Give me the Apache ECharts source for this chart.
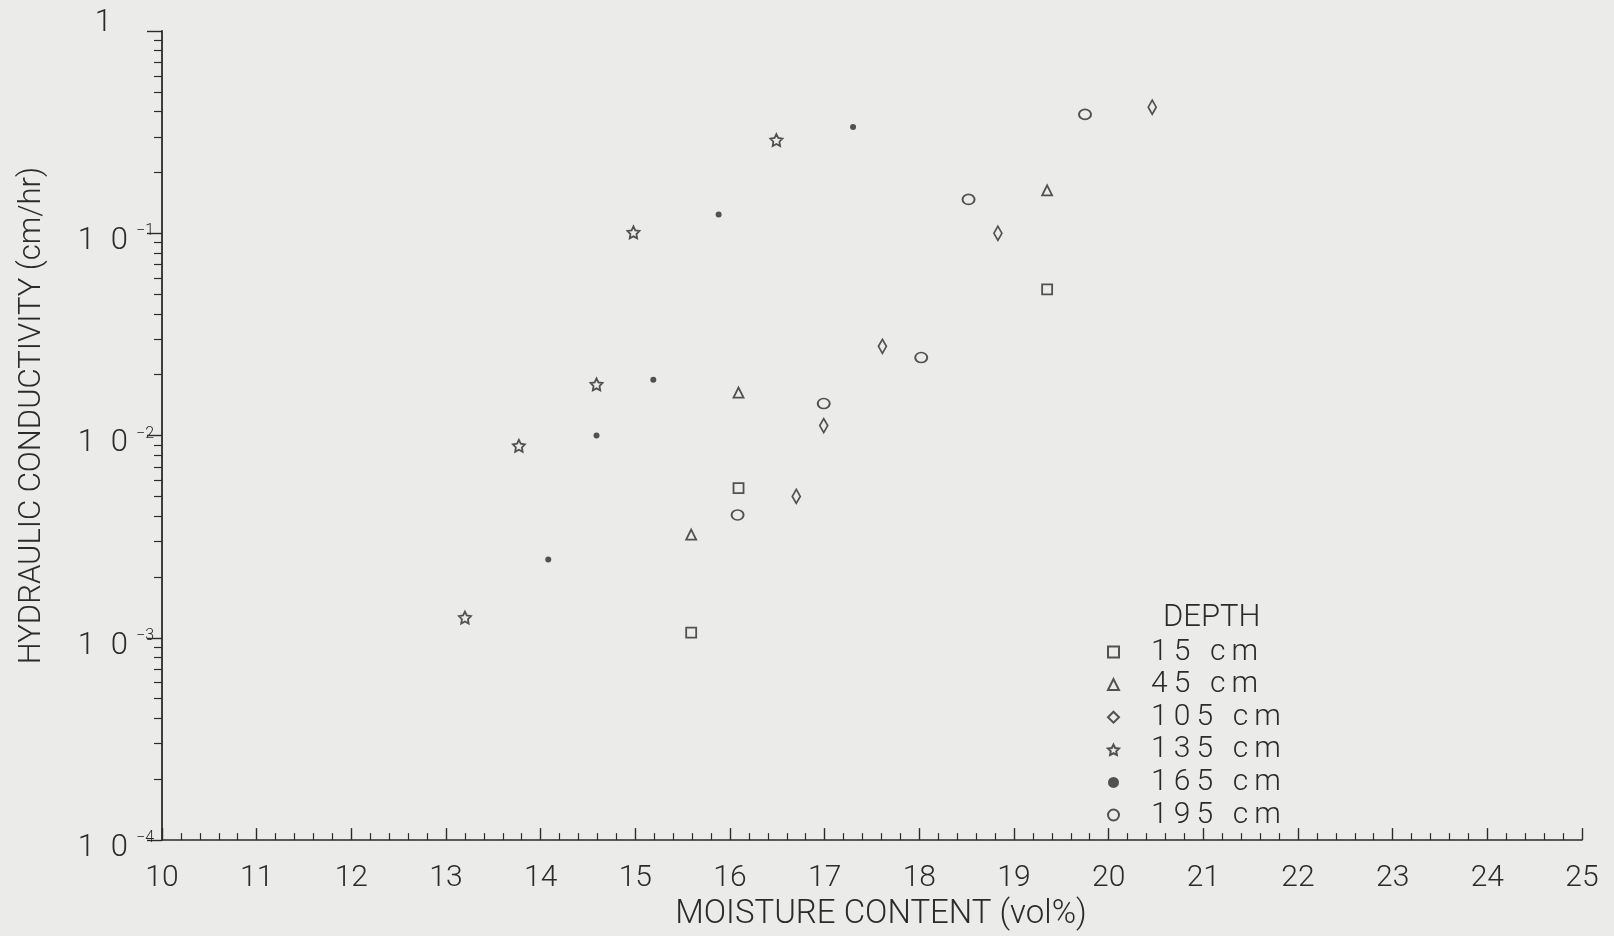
<!DOCTYPE html>
<html>
<head>
<meta charset="utf-8">
<script src="https://cdn.jsdelivr.net/npm/echarts@6/dist/echarts.min.js"></script>
<style>
  html, body { margin: 0; padding: 0; background: #ebebe9; }
  #chart { width: 1614px; height: 936px; }
</style>
</head>
<body>
<div id="chart"></div>
<script>
// depth series (legend order)
const depths = ['15 cm', '45 cm', '105 cm', '135 cm', '165 cm', '195 cm']

// moisture content (vol%) and hydraulic conductivity (cm/hr) per depth
const moisture15 = [15.59, 16.09, 19.35]
const cond15 = [0.00106, 0.0055, 0.0528]

const moisture45 = [15.59, 16.09, 19.35]
const cond45 = [0.00324, 0.0163, 0.163]

const moisture105 = [16.70, 16.99, 17.61, 18.83, 20.46]
const cond105 = [0.0050, 0.0112, 0.0276, 0.100, 0.420]

const moisture135 = [13.20, 13.77, 14.59, 14.98, 16.49]
const cond135 = [0.00126, 0.0089, 0.0179, 0.101, 0.289]

const moisture165 = [14.08, 14.59, 15.19, 15.88, 17.30]
const cond165 = [0.00244, 0.0100, 0.0189, 0.124, 0.335]

const moisture195 = [16.08, 16.99, 18.02, 18.52, 19.75]
const cond195 = [0.00405, 0.0144, 0.0243, 0.147, 0.387]

const xTicks = [10, 11, 12, 13, 14, 15, 16, 17, 18, 19, 20, 21, 22, 23, 24, 25]
const yMinorTicks = []
for (let e = -4; e < 0; e++) {
  for (let m = 2; m <= 9; m++) yMinorTicks.push(m * Math.pow(10, e))
}

const bg = '#ebebe9'
const ink = '#2b2b2b'
const font = 'Roboto'

const starPath = 'path://M10 0 L12.94 5.95 L19.51 6.91 L14.76 11.55 L15.88 18.09 L10 15 L4.12 18.09 L5.24 11.55 L0.49 6.91 L7.06 5.95 Z'

const pairs = (xs, ys) => xs.map((x, i) => [x, ys[i]])

const hollow = { color: bg, borderColor: ink, borderWidth: 1.8 }

const seriesDefs = [
  { name: depths[0], data: pairs(moisture15, cond15), symbol: 'rect', symbolSize: 10, itemStyle: hollow },
  { name: depths[1], data: pairs(moisture45, cond45), symbol: 'triangle', symbolSize: 10, itemStyle: hollow },
  { name: depths[2], data: pairs(moisture105, cond105), symbol: 'diamond', symbolSize: [8, 14], itemStyle: hollow },
  { name: depths[3], data: pairs(moisture135, cond135), symbol: starPath, symbolSize: 12, itemStyle: hollow },
  { name: depths[4], data: pairs(moisture165, cond165), symbol: 'circle', symbolSize: 6, itemStyle: { color: ink } },
  { name: depths[5], data: pairs(moisture195, cond195), symbol: 'circle', symbolSize: [12, 10], itemStyle: hollow }
]

const chart = echarts.init(document.getElementById('chart'))

const yLabel = (v) => {
  const e = Math.round(Math.log10(v))
  if (e === 0) return '{t|1}{pad|}'
  return '{b|1\u20020}{s|\u2212' + (-e) + '}'
}

chart.setOption({
  backgroundColor: bg,
  animation: false,
  textStyle: { fontFamily: font, fontWeight: 300, color: ink },
  title: {
    text: 'DEPTH',
    left: 1158,
    top: 598,
    textStyle: { fontFamily: font, fontWeight: 300, fontSize: 31, color: ink }
  },
  legend: {
    orient: 'vertical',
    left: 1102,
    top: 632,
    itemWidth: 11,
    itemHeight: 11,
    itemGap: 2.6,
    data: depths,
    formatter: (name) => name.split('').join('\u2009'),
    textStyle: { fontFamily: font, fontWeight: 300, fontSize: 30, lineHeight: 30, color: ink, padding: [0, 0, 0, 27] }
  },
  grid: { left: 162, right: 32, top: 31, bottom: 90, containLabel: false },
  xAxis: {
    type: 'value',
    min: xTicks[0],
    max: xTicks[xTicks.length - 1],
    interval: 1,
    name: 'MOISTURE CONTENT (vol%)',
    nameLocation: 'middle',
    nameGap: 55,
    nameTextStyle: { fontFamily: font, fontWeight: 300, fontSize: 33, color: ink, padding: [0, 0, 0, 18] },
    axisLine: { show: true, onZero: false, lineStyle: { color: ink, width: 1.6 } },
    axisTick: { show: true, inside: true, length: 12, lineStyle: { color: ink, width: 1.4 } },
    minorTick: { show: true, splitNumber: 5, length: 7, lineStyle: { color: ink, width: 1.2 } },
    axisLabel: { margin: 23, fontFamily: font, fontWeight: 300, fontSize: 30, color: ink },
    splitLine: { show: false },
    minorSplitLine: { show: false }
  },
  yAxis: [
    {
      type: 'log',
      logBase: 10,
      min: 1e-4,
      max: 1,
      name: 'HYDRAULIC CONDUCTIVITY (cm/hr)',
      nameLocation: 'middle',
      nameGap: 114,
      nameTextStyle: { fontFamily: font, fontWeight: 300, fontSize: 31, color: ink, padding: [0, 0, 0, 40] },
      axisLine: { show: true, lineStyle: { color: ink, width: 1.8 } },
      axisTick: { show: true, inside: false, length: 15, lineStyle: { color: ink, width: 1.4 } },
      axisLabel: {
        margin: 8,
        formatter: yLabel,
        padding: [16, 0, 0, 0],
        rich: {
          b: { fontFamily: font, fontWeight: 300, fontSize: 31, color: ink },
          t: { fontFamily: font, fontWeight: 300, fontSize: 31, color: ink, padding: [0, 0, 32, 0] },
          s: { fontFamily: font, fontWeight: 300, fontSize: 16, color: ink, padding: [0, 0, 20, 8] },
          pad: { width: 42 }
        }
      },
      splitLine: { show: false }
    },
    {
      type: 'log',
      logBase: 10,
      min: 1e-4,
      max: 1,
      position: 'left',
      axisLine: { show: false },
      axisTick: { show: true, inside: false, length: 8, customValues: yMinorTicks, lineStyle: { color: ink, width: 1.2 } },
      axisLabel: { show: false },
      splitLine: { show: false }
    }
  ],
  series: seriesDefs.map(s => ({
    type: 'scatter',
    name: s.name,
    data: s.data,
    symbol: s.symbol,
    symbolSize: s.symbolSize,
    itemStyle: s.itemStyle,
    yAxisIndex: 0
  }))
})
</script>
</body>
</html>
